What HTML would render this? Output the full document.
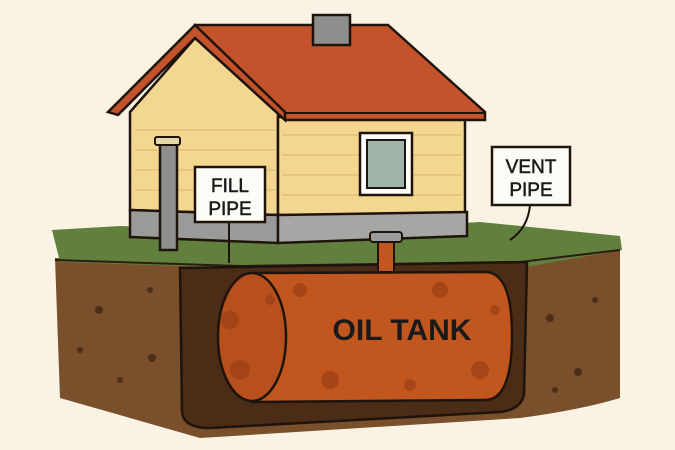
<!DOCTYPE html>
<html><head><meta charset="utf-8"><style>
html,body{margin:0;padding:0;background:#faf3e4;}
svg{display:block}
text{font-family:"Liberation Sans","DejaVu Sans",sans-serif;font-weight:bold}
</style></head><body>
<svg width="675" height="450" viewBox="0 0 675 450" xmlns="http://www.w3.org/2000/svg">
<rect width="675" height="450" fill="#faf3e4"/>
<!-- dirt -->
<path d="M55 258 L620 250 L620 398 Q580 410 520 418 L200 438 L60 398 Z" fill="#7a4f2c"/>
<!-- grass -->
<path d="M52 230 L120 226 L300 232 L480 222 L620 236 L622 250 L520 268 L240 268 L60 262 Z" fill="#62803d"/>
<path d="M55 260 L240 266 L520 262 L620 250" fill="none" stroke="#2a1d12" stroke-width="2"/>
<!-- pit -->
<path d="M180 268 L527 262 L524 395 Q520 410 500 412 L210 428 Q182 428 182 410 Z" fill="#4a2c17" stroke="#1f140c" stroke-width="2.5"/>
<!-- tank -->
<path d="M252 273 L485 272 Q512 272 512 335 Q512 400 485 400 L252 402 Z" fill="#c1571f" stroke="#1f140c" stroke-width="2.5"/>
<ellipse cx="252" cy="337" rx="34" ry="64" fill="#b8501d" stroke="#1f140c" stroke-width="2.5"/>
<g fill="#9a3f16" opacity="0.7">
<circle cx="230" cy="320" r="9"/><circle cx="240" cy="370" r="10"/><circle cx="300" cy="290" r="7"/><circle cx="330" cy="380" r="9"/><circle cx="440" cy="290" r="8"/><circle cx="480" cy="370" r="9"/><circle cx="270" cy="300" r="5"/><circle cx="410" cy="385" r="6"/><circle cx="495" cy="310" r="5"/>
</g>
<text x="402" y="340" font-size="30" text-anchor="middle" fill="#1a1a1a">OIL TANK</text>
<!-- dirt specks -->
<g fill="#4d2f18">
<circle cx="99" cy="310" r="4"/><circle cx="152" cy="358" r="4"/><circle cx="80" cy="350" r="3"/><circle cx="150" cy="290" r="3"/><circle cx="550" cy="318" r="4"/><circle cx="578" cy="372" r="4"/><circle cx="595" cy="300" r="3"/><circle cx="120" cy="380" r="3"/><circle cx="555" cy="390" r="3"/>
</g>
<!-- house walls -->
<polygon points="130,112 195,38 278,112 278,215 130,210" fill="#f3d68f" stroke="#1f140c" stroke-width="2.5"/>
<rect x="278" y="117" width="187" height="98" fill="#f3d68f" stroke="#1f140c" stroke-width="2.5"/>
<g stroke="#d8b56a" stroke-width="1">
<line x1="135" y1="130" x2="275" y2="130"/><line x1="135" y1="150" x2="275" y2="150"/><line x1="135" y1="170" x2="275" y2="170"/><line x1="135" y1="190" x2="275" y2="190"/>
<line x1="282" y1="135" x2="462" y2="135"/><line x1="282" y1="155" x2="462" y2="155"/><line x1="282" y1="175" x2="462" y2="175"/><line x1="282" y1="195" x2="462" y2="195"/>
</g>
<!-- foundation -->
<polygon points="130,210 278,215 278,243 130,237" fill="#9a9a98" stroke="#1f140c" stroke-width="2.5"/>
<polygon points="278,215 467,212 467,236 278,243" fill="#a6a6a4" stroke="#1f140c" stroke-width="2.5"/>
<!-- tank pipe -->
<rect x="378" y="242" width="16" height="30" fill="#c1571f" stroke="#1f140c" stroke-width="2"/>
<rect x="370" y="232" width="32" height="10" rx="3" fill="#9c9c9c" stroke="#1f140c" stroke-width="2"/>
<!-- roof -->
<polygon points="195,25 388,25 485,112 485,120 285,120 195,38" fill="#c4532b" stroke="#1f140c" stroke-width="2.5"/>
<polygon points="195,25 285,112 285,120 195,38 118,115 108,112" fill="#c4532b" stroke="#1f140c" stroke-width="2.5"/>
<line x1="285" y1="113" x2="485" y2="113" stroke="#1f140c" stroke-width="2"/>
<!-- chimney -->
<rect x="313" y="15" width="37" height="30" fill="#8e8e8c" stroke="#1f140c" stroke-width="2.5"/>
<!-- window -->
<rect x="360" y="133" width="52" height="62" fill="#fff" stroke="#1f140c" stroke-width="2.5"/>
<rect x="367" y="140" width="38" height="48" fill="#9fb3a8" stroke="#1f140c" stroke-width="2"/>
<!-- fill pipe -->
<rect x="160" y="144" width="17" height="106" fill="#8e8e8c" stroke="#1f140c" stroke-width="2.5"/>
<rect x="155" y="137" width="25" height="8" rx="2" fill="#e8d8a8" stroke="#1f140c" stroke-width="2"/>
<!-- fill sign -->
<line x1="229" y1="222" x2="229" y2="263" stroke="#1f140c" stroke-width="2"/>
<rect x="195" y="167" width="70" height="55" fill="#fdfbf6" stroke="#1f140c" stroke-width="2.5"/>
<text x="230" y="192" font-size="19" text-anchor="middle" fill="#1a1a1a" style="font-weight:normal" stroke="#1a1a1a" stroke-width="0.5">FILL</text>
<text x="230" y="215" font-size="19" text-anchor="middle" fill="#1a1a1a" style="font-weight:normal" stroke="#1a1a1a" stroke-width="0.5">PIPE</text>
<!-- vent sign -->
<path d="M530 205 Q528 228 510 240" fill="none" stroke="#1f140c" stroke-width="2"/>
<rect x="492" y="147" width="78" height="58" fill="#fdfbf6" stroke="#1f140c" stroke-width="2.5"/>
<text x="531" y="173" font-size="19" text-anchor="middle" fill="#1a1a1a" style="font-weight:normal" stroke="#1a1a1a" stroke-width="0.5">VENT</text>
<text x="531" y="196" font-size="19" text-anchor="middle" fill="#1a1a1a" style="font-weight:normal" stroke="#1a1a1a" stroke-width="0.5">PIPE</text>
</svg>
</body></html>
